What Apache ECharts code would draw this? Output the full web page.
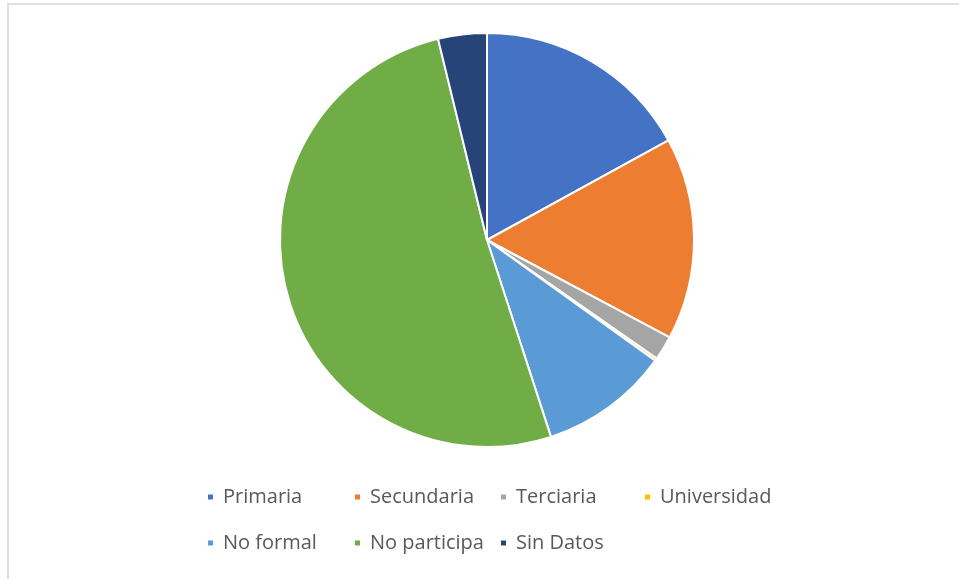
<!DOCTYPE html>
<html><head><meta charset="utf-8">
<script src="https://cdn.jsdelivr.net/npm/echarts@6/dist/echarts.min.js"></script>
<style>html,body{margin:0;padding:0;background:#fff}#c{width:959px;height:579px}</style>
</head><body><div id="c"></div>
<script>
const categories = ['Primaria','Secundaria','Terciaria','Universidad','No formal','No participa','Sin Datos'];
const values = [17.0, 15.8, 1.9, 0.2, 10.1, 51.2, 3.8];
const colors = ['#4472C4','#ED7D31','#A5A5A5','#FFC000','#5B9BD5','#70AD47','#264478'];
const legendCols = [206, 353, 499, 643];
const legendRows = [487, 533];

const chart = echarts.init(document.getElementById('c'));
const legends = categories.map((name, i) => ({
  data: [name],
  left: legendCols[i < 4 ? i : i - 4],
  top: legendRows[i < 4 ? 0 : 1],
  icon: 'rect', itemWidth: 7, itemHeight: 7, itemGap: 0,
  padding: 0, selectedMode: false,
  textStyle: { fontFamily: 'Open Sans', fontSize: 20, color: '#595959', padding: [0,0,0,4] }
}));
chart.setOption({
  animation: false,
  color: colors,
  legend: legends,
  graphic: [
    { type: 'rect', shape: { x: 7, y: 3, width: 952, height: 2 }, style: { fill: '#e0e0e0' } },
    { type: 'rect', shape: { x: 7, y: 3, width: 2, height: 576 }, style: { fill: '#e0e0e0' } }
  ],
  series: [{
    type: 'pie',
    center: [487, 240],
    radius: 207,
    startAngle: 90,
    clockwise: true,
    label: { show: false },
    labelLine: { show: false },
    itemStyle: { borderColor: '#fff', borderWidth: 2 },
    emphasis: { disabled: true },
    data: categories.map((n, i) => ({ name: n, value: values[i] }))
  }]
});
</script></body></html>
